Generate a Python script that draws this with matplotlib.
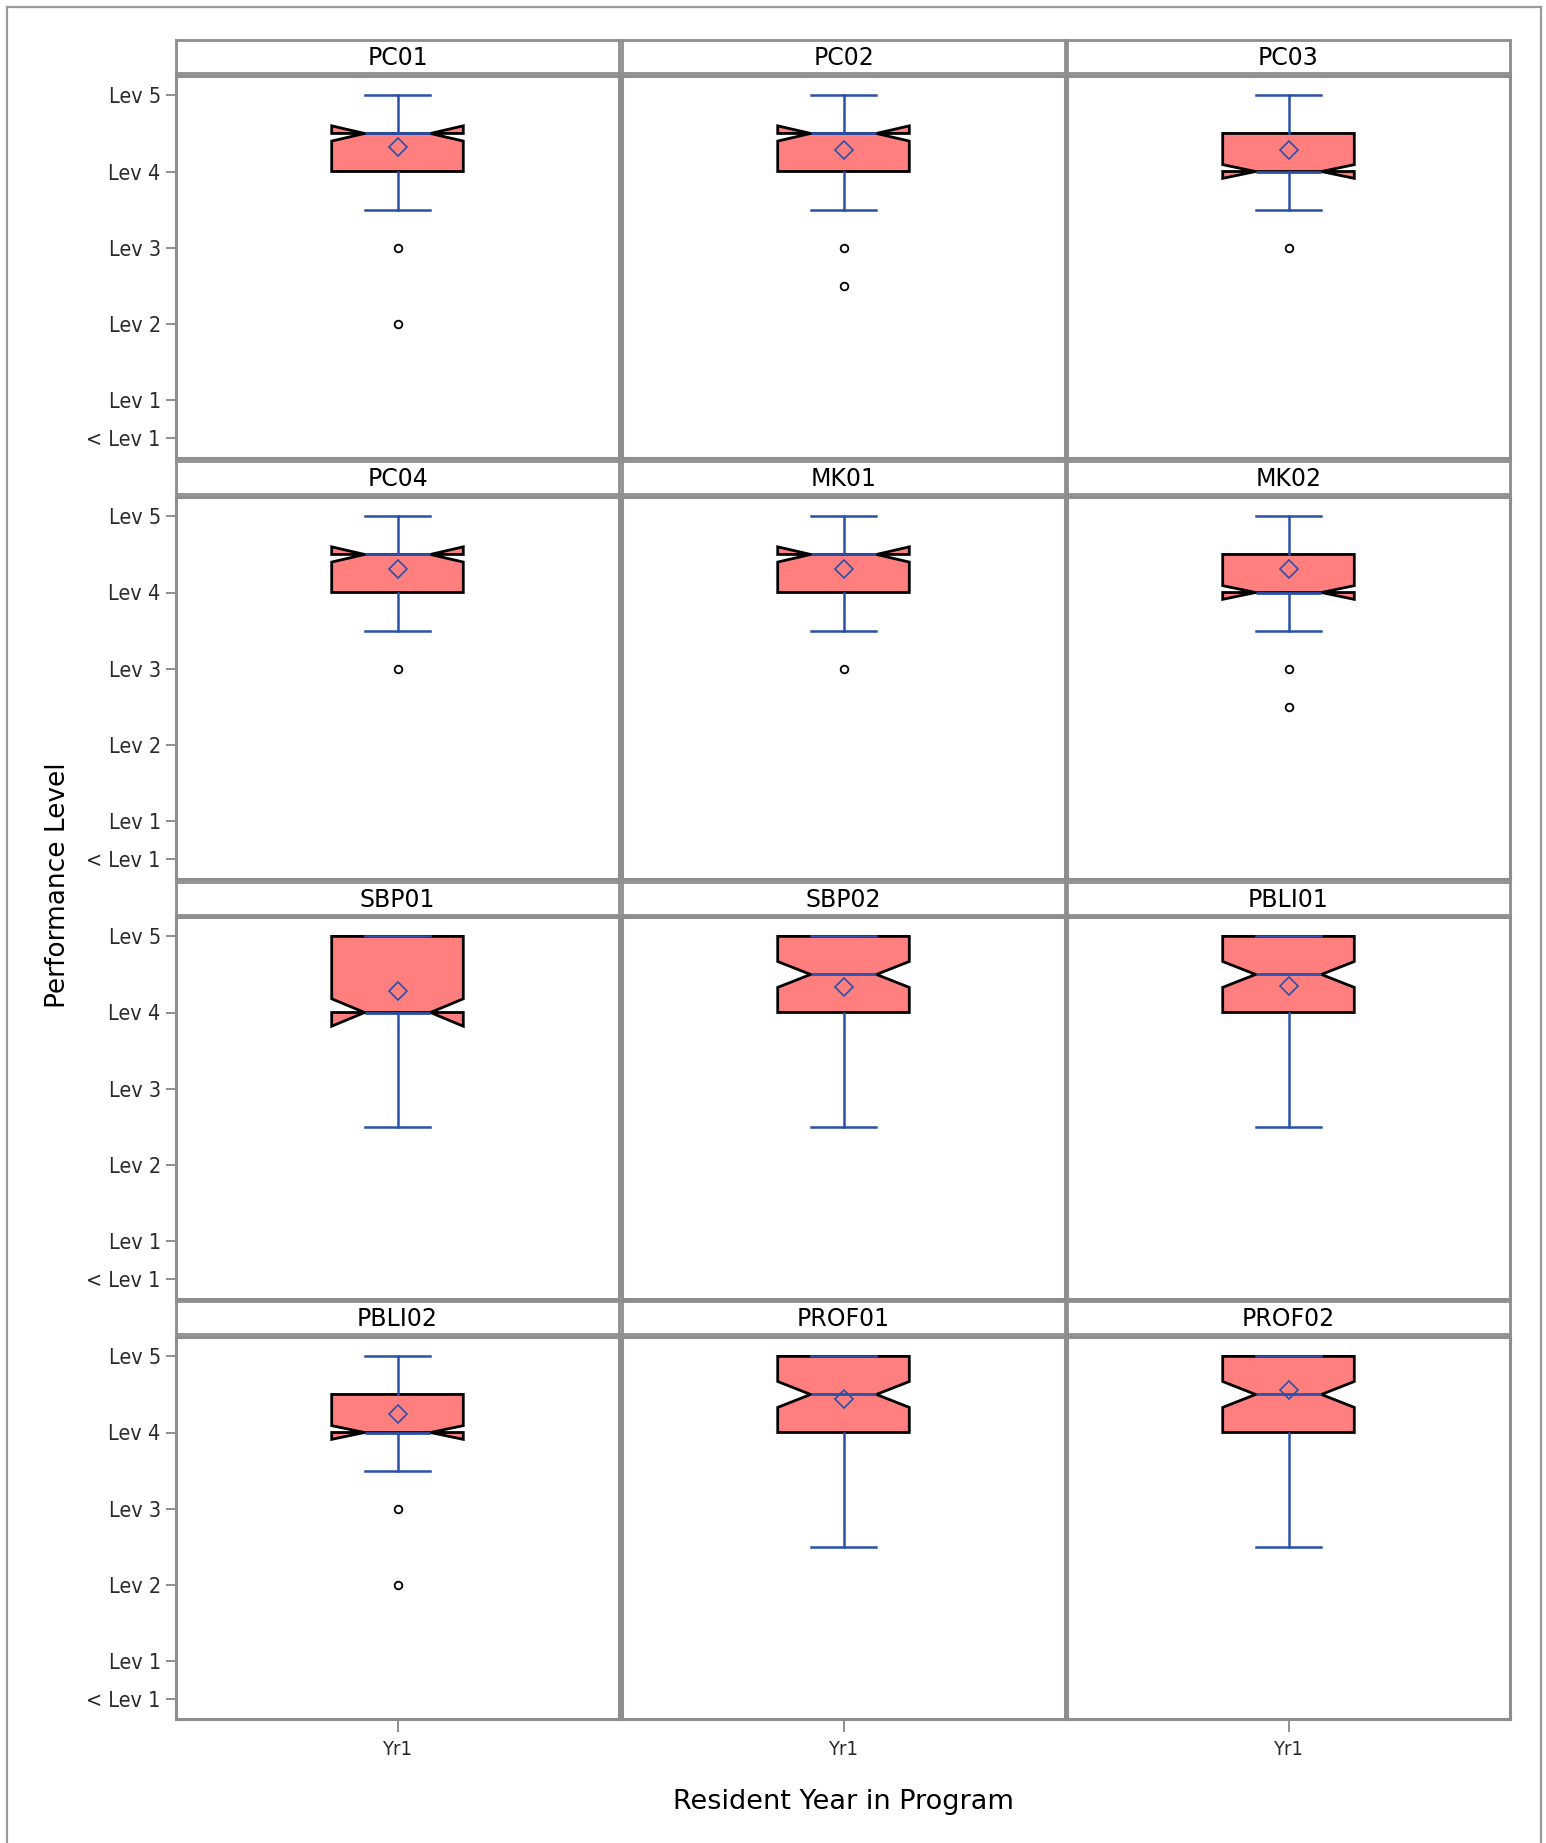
import matplotlib
matplotlib.use("Agg")
import matplotlib.pyplot as plt
from matplotlib.patches import Rectangle

# panel names in reading order (4 rows x 3 columns)
names = ["PC01", "PC02", "PC03", "PC04", "MK01", "MK02",
         "SBP01", "SBP02", "PBLI01", "PBLI02", "PROF01", "PROF02"]
q1 = [4, 4, 4, 4, 4, 4, 4, 4, 4, 4, 4, 4]
medians = [4.5, 4.5, 4.0, 4.5, 4.5, 4.0, 4.0, 4.5, 4.5, 4.0, 4.5, 4.5]
q3 = [4.5, 4.5, 4.5, 4.5, 4.5, 4.5, 5, 5, 5, 4.5, 5, 5]
whisk_lo = [3.5, 3.5, 3.5, 3.5, 3.5, 3.5, 2.5, 2.5, 2.5, 3.5, 2.5, 2.5]
whisk_hi = [5, 5, 5, 5, 5, 5, 5, 5, 5, 5, 5, 5]
means = [4.32, 4.28, 4.28, 4.31, 4.31, 4.31, 4.28, 4.34, 4.35, 4.24, 4.44, 4.555]
notch_half = [0.1, 0.1, 0.09, 0.1, 0.1, 0.09, 0.18, 0.17, 0.17, 0.09, 0.17, 0.17]
outliers = [[3, 2], [3, 2.5], [3], [3], [3], [3, 2.5],
            [], [], [], [3, 2], [], []]

level_ticks = [5, 4, 3, 2, 1, 0.5]
level_labels = ["Lev 5", "Lev 4", "Lev 3", "Lev 2", "Lev 1", "< Lev 1"]
year_labels = ["Yr1"]

W, H = 1546, 1843
FILL = "#ff7f7f"
BLUE = "#2a50aa"
FRAME = "#8e8e8e"

fig = plt.figure(figsize=(W / 100, H / 100), dpi=100)

# outer border (bottom edge runs off the image)
fig.patches.append(Rectangle((7 / W, -0.01), (1541 - 7) / W, 1 - 7 / H + 0.01,
                             transform=fig.transFigure, fill=False,
                             edgecolor="#9a9a9a", linewidth=1.6))

col_left = [176, 622, 1067]
col_w = 443
plot_top = [76, 497, 917, 1337]
plot_h = 382
strip_top = [40, 461, 882, 1301]
strip_h = 33


def px_box(left, top, w, h):
    return [left / W, 1 - (top + h) / H, w / W, h / H]


for i, name in enumerate(names):
    r, c = divmod(i, 3)

    # strip header
    sax = fig.add_axes(px_box(col_left[c], strip_top[r], col_w, strip_h))
    sax.set_xticks([])
    sax.set_yticks([])
    for sp in sax.spines.values():
        sp.set_color(FRAME)
        sp.set_linewidth(2.0)
    sax.text(0.5, 0.45, name, ha="center", va="center", fontsize=17,
             transform=sax.transAxes)

    ax = fig.add_axes(px_box(col_left[c], plot_top[r], col_w, plot_h))
    stats = [{
        "med": medians[i], "q1": q1[i], "q3": q3[i],
        "whislo": whisk_lo[i], "whishi": whisk_hi[i],
        "mean": means[i], "fliers": outliers[i],
        "cilo": medians[i] - notch_half[i], "cihi": medians[i] + notch_half[i],
    }]
    ax.bxp(stats, positions=[1], widths=0.297, shownotches=True,
           showmeans=True, patch_artist=True,
           boxprops=dict(facecolor=FILL, edgecolor="black", linewidth=2.0),
           whiskerprops=dict(color=BLUE, linewidth=1.8),
           capprops=dict(color=BLUE, linewidth=1.8),
           medianprops=dict(color=BLUE, linewidth=2.0),
           meanprops=dict(marker="D", markerfacecolor="none",
                          markeredgecolor=BLUE, markersize=9.5,
                          markeredgewidth=1.2),
           flierprops=dict(marker="o", markerfacecolor="none",
                           markeredgecolor="black", markersize=5.5,
                           markeredgewidth=1.3))
    ax.set_xlim(0.5, 1.5)
    ax.set_ylim(0.235, 5.255)
    for sp in ax.spines.values():
        sp.set_color(FRAME)
        sp.set_linewidth(2.2)

    if c == 0:
        ax.set_yticks(level_ticks)
        ax.set_yticklabels(level_labels, fontsize=15.5, fontstretch="condensed",
                           color="#2a2a2a")
        ax.tick_params(axis="y", length=7, width=1.4, color=FRAME, pad=4)
    else:
        ax.set_yticks([])

    if r == 3:
        ax.set_xticks([1])
        ax.set_xticklabels(year_labels, fontsize=14.5, fontstretch="condensed",
                           color="#2a2a2a")
        ax.tick_params(axis="x", length=9, width=1.4, color=FRAME, pad=6)
    else:
        ax.set_xticks([])

fig.text(58 / W, 1 - 885 / H, "Performance Level", rotation=90,
         ha="center", va="center", fontsize=19)
fig.text(843 / W, 1 - 1802 / H, "Resident Year in Program",
         ha="center", va="center", fontsize=19.5)

fig.savefig("out.png", dpi=100)
